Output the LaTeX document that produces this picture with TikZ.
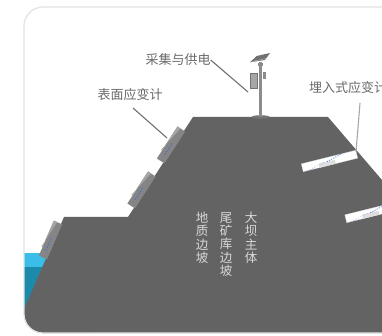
\documentclass[tikz,border=0pt]{standalone}
\usepackage{fontspec}
\newfontfamily\cjk{Noto Sans CJK SC}
\usetikzlibrary{calc}
\definecolor{rock}{HTML}{636363}
\definecolor{waterlight}{HTML}{3ABDE6}
\definecolor{waterdark}{HTML}{1C8AAB}
\definecolor{cardline}{HTML}{E2E2E2}
\definecolor{labelgray}{HTML}{6A6A6A}
\definecolor{leadgray}{HTML}{707070}
\definecolor{vgray}{HTML}{D9D9D9}
\definecolor{sgfill}{HTML}{858585}
\definecolor{sglight}{HTML}{A4A4A4}
\definecolor{gaugeblue}{HTML}{3D6FD6}
\definecolor{polegray}{HTML}{8C8C8C}
\definecolor{panelgray}{HTML}{707070}
\tikzset{
  lbl/.style={font=\cjk\fontsize{13}{15}\selectfont, text=labelgray, inner sep=0pt},
  leader/.style={draw=leadgray, line width=1.1pt},
  vtext/.style={font=\cjk\fontsize{12.5}{13.3}\selectfont, text=vgray, align=center, inner sep=0pt, anchor=north},
  sgauge/.style={fill=sgfill, minimum width=38pt, minimum height=9pt, inner sep=0pt},
  egauge/.style={fill=white, draw=cardline, line width=0.3pt, minimum width=56pt, minimum height=8pt, inner sep=0pt},
  bluedash/.style={draw=gaugeblue, line width=0.8pt, dash pattern=on 1.5pt off 1.5pt},
}
\begin{document}
\begin{tikzpicture}[x=1pt,y=-1pt]
\useasboundingbox (0,0) rectangle (382,336);
\fill[white] (0,0) rectangle (382,336);

% card background, water and slope body
\begin{scope}
  \clip[rounded corners=19pt] (24,7) rectangle (440,333);
  \fill[waterlight] (24,253) rectangle (90,268);
  \fill[waterdark] (24,267) rectangle (90,340);
  \fill[rock] (193,117) -- (328,117) -- (519,340) -- (10.7,340) -- (64,217) -- (128,217) -- cycle;
\end{scope}
\draw[cardline, line width=1.2pt, rounded corners=19pt] (24,7) rectangle (440,333);

% monitoring station: pole, solar panel, cabinet
\fill[black!55] (260.5,117) ellipse (9 and 1.8);
\fill[polegray] (259,62) rectangle (262,117);
\fill[panelgray] (250,62.3) -- (256.7,56) -- (270,53) -- (265,60) -- cycle;
\draw[white!75!black, line width=0.4pt] (252,61.5) -- (266,58.5);
\fill[polegray] (258,63) rectangle (263,66);
\fill[black!35] (250,73) rectangle (257,88);
\draw[black!55, line width=0.5pt] (250,73) rectangle (257,88);
\fill[black!45] (263,72) rectangle (265.5,79);
\coordinate (stationtip) at (248,92);

% surface strain gauges along the slope
\foreach \n/\px/\py/\ang in {g1/171/145/57, g2/141.5/190/57, g3/50.5/240/66.6}{
  \node[sgauge, rotate=\ang] (\n) at (\px,\py) {};
  \fill[sglight] ($(\n.north west)!0.25!(\n.north east)$) -- (\n.north east)
    -- ($(\n.east)!0.2!(\n.north east)$)
    -- ($(\n.west)!0.25!(\n.east)!0.2!90:(\n.east)$) -- cycle;
  \draw[bluedash] ($(\n.west)!0.2!(\n.east)$) -- ($(\n.west)!0.55!(\n.east)$);
}
\coordinate (surfacetip) at (167,138);

% embedded strain gauges inside the dam
\foreach \n/\px/\py in {e1/329.5/161, e2/373/212}{
  \node[egauge, rotate=14] (\n) at (\px,\py) {};
  \fill[black!13] ($(\n.south west)!0.3!(\n.south east)$) -- ($(\n.south west)!0.6!(\n.south east)$)
    -- ($(\n.west)!0.6!(\n.east)$) -- ($(\n.west)!0.3!(\n.east)$) -- cycle;
  \draw[draw=gaugeblue, line width=0.6pt, dash pattern=on 1.2pt off 1.2pt]
    ($(\n.west)!0.45!(\n.east)$) -- ($(\n.north west)!0.75!(\n.north east)$);
  \draw[draw=gaugeblue!60, line width=0.5pt, dash pattern=on 1pt off 1.5pt]
    ($(\n.south west)!0.08!(\n.south east)$) -- ($(\n.west)!0.4!(\n.east)$);
}
\coordinate (embedtip) at (356,152);

% labels and leader lines
\node[lbl] (station) at (178,60) {采集与供电};
\node[lbl] (surface) at (130,95) {表面应变计};
\node[lbl, anchor=west] (embed) at (309,88) {埋入式应变计};
\coordinate (surfacestart) at (133,108);
\coordinate (embedstart) at (360,103);
\draw[leader] (station.east) -- (stationtip);
\draw[leader] (surfacestart) -- (surfacetip);
\draw[leader, draw=black!35] (embedstart) -- (embedtip);

% zone names, written top to bottom
\node[vtext] (geo) at (202,212) {地\\质\\边\\坡};
\node[vtext] (tail) at (226,212) {尾\\矿\\库\\边\\坡};
\node[vtext] (dam) at (251,212) {大\\坝\\主\\体};
\end{tikzpicture}
\end{document}
